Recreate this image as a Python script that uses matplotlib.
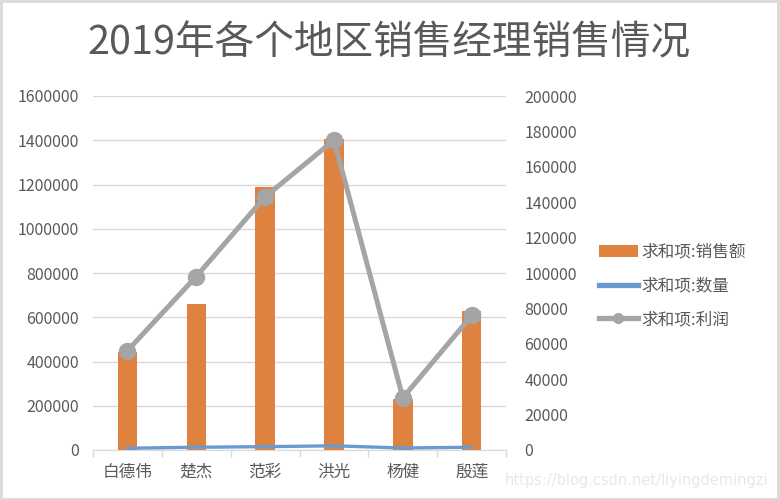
import numpy as np
import matplotlib
matplotlib.use("Agg")
import matplotlib.pyplot as plt
from matplotlib.patches import Rectangle
from matplotlib.ticker import FuncFormatter

plt.rcParams['font.family'] = ['Noto Sans CJK SC', 'DejaVu Sans']

names = ["白德伟", "楚杰", "范彩", "洪光", "杨健", "殷莲"]
sales = [444000, 660000, 1188000, 1405000, 232000, 628000]
quantity = [8000, 12500, 15000, 19000, 9000, 12500]
profit = [56000, 98000, 143000, 175000, 29500, 76000]

left_ticks = [0, 200000, 400000, 600000, 800000, 1000000, 1200000, 1400000, 1600000]
right_ticks = [0, 20000, 40000, 60000, 80000, 100000, 120000, 140000, 160000, 180000, 200000]

orange = "#E0823F"
blue = "#6A9BD0"
gray = "#A5A5A5"
txt = "#595959"
grid = "#D9D9D9"

fig = plt.figure(figsize=(7.8, 5), dpi=100)
ax = fig.add_axes([0.119, 0.1, 0.530, 0.708])
x = np.arange(len(names))

bars = ax.bar(x, sales, width=0.28, color=orange, zorder=2)
qline, = ax.plot(x, quantity, color=blue, lw=2.4, zorder=3, solid_capstyle='round')
ax.set_ylim(0, 1600000)
ax.set_yticks(left_ticks)
ax.yaxis.set_major_formatter(FuncFormatter(lambda v, p: f"{int(v)}"))
ax.set_xlim(-0.5, len(names) - 0.5)
ax.set_xticks(x)
ax.set_xticklabels(names)
ax.set_xticks(np.arange(-0.5, len(names)), minor=True)
ax.tick_params(axis='x', which='major', length=0, pad=10, labelsize=12, labelcolor=txt)
ax.tick_params(axis='x', which='minor', length=5, color=grid, width=1)
ax.tick_params(axis='y', length=0, pad=10, labelsize=11.5, labelcolor=txt)
ax.grid(axis='y', color=grid, lw=1, zorder=0)
ax.set_axisbelow(True)
for s in ['top', 'right', 'left']:
    ax.spines[s].set_visible(False)
ax.spines['bottom'].set_color(grid)

ax2 = ax.twinx()
pline, = ax2.plot(x, profit, color=gray, lw=3.6, marker='o', markersize=11.5, zorder=4)
ax2.set_ylim(0, 200000)
ax2.set_yticks(right_ticks)
ax2.tick_params(axis='y', length=0, pad=13, labelsize=11.5, labelcolor=txt)
for s in ax2.spines.values():
    s.set_visible(False)

qhandle, = plt.plot([], [], color=blue, lw=3.8)
phandle, = plt.plot([], [], color=gray, lw=3.8, marker='o', markersize=7)
fig.legend([bars, qhandle, phandle], ["求和项:销售额", "求和项:数量", "求和项:利润"],
           loc='center left', bbox_to_anchor=(0.749, 0.428),
           frameon=False, fontsize=12, labelcolor=txt, handlelength=2.3,
           handletextpad=0.2, labelspacing=1.0)

fig.text(0.499, 0.914, "2019年各个地区销售经理销售情况", ha='center', va='center',
         fontsize=28.5, color=txt)
fig.text(0.985, 0.04, "https://blog.csdn.net/liyingdemingzi", ha='right', va='center',
         fontsize=10.5, color="#E8E8E8", family=['DejaVu Sans'])

fig.patches.append(Rectangle((0.001, 0.002), 0.997, 0.996, transform=fig.transFigure,
                             fill=False, edgecolor=grid, lw=2))

fig.savefig("out.png", dpi=100)
